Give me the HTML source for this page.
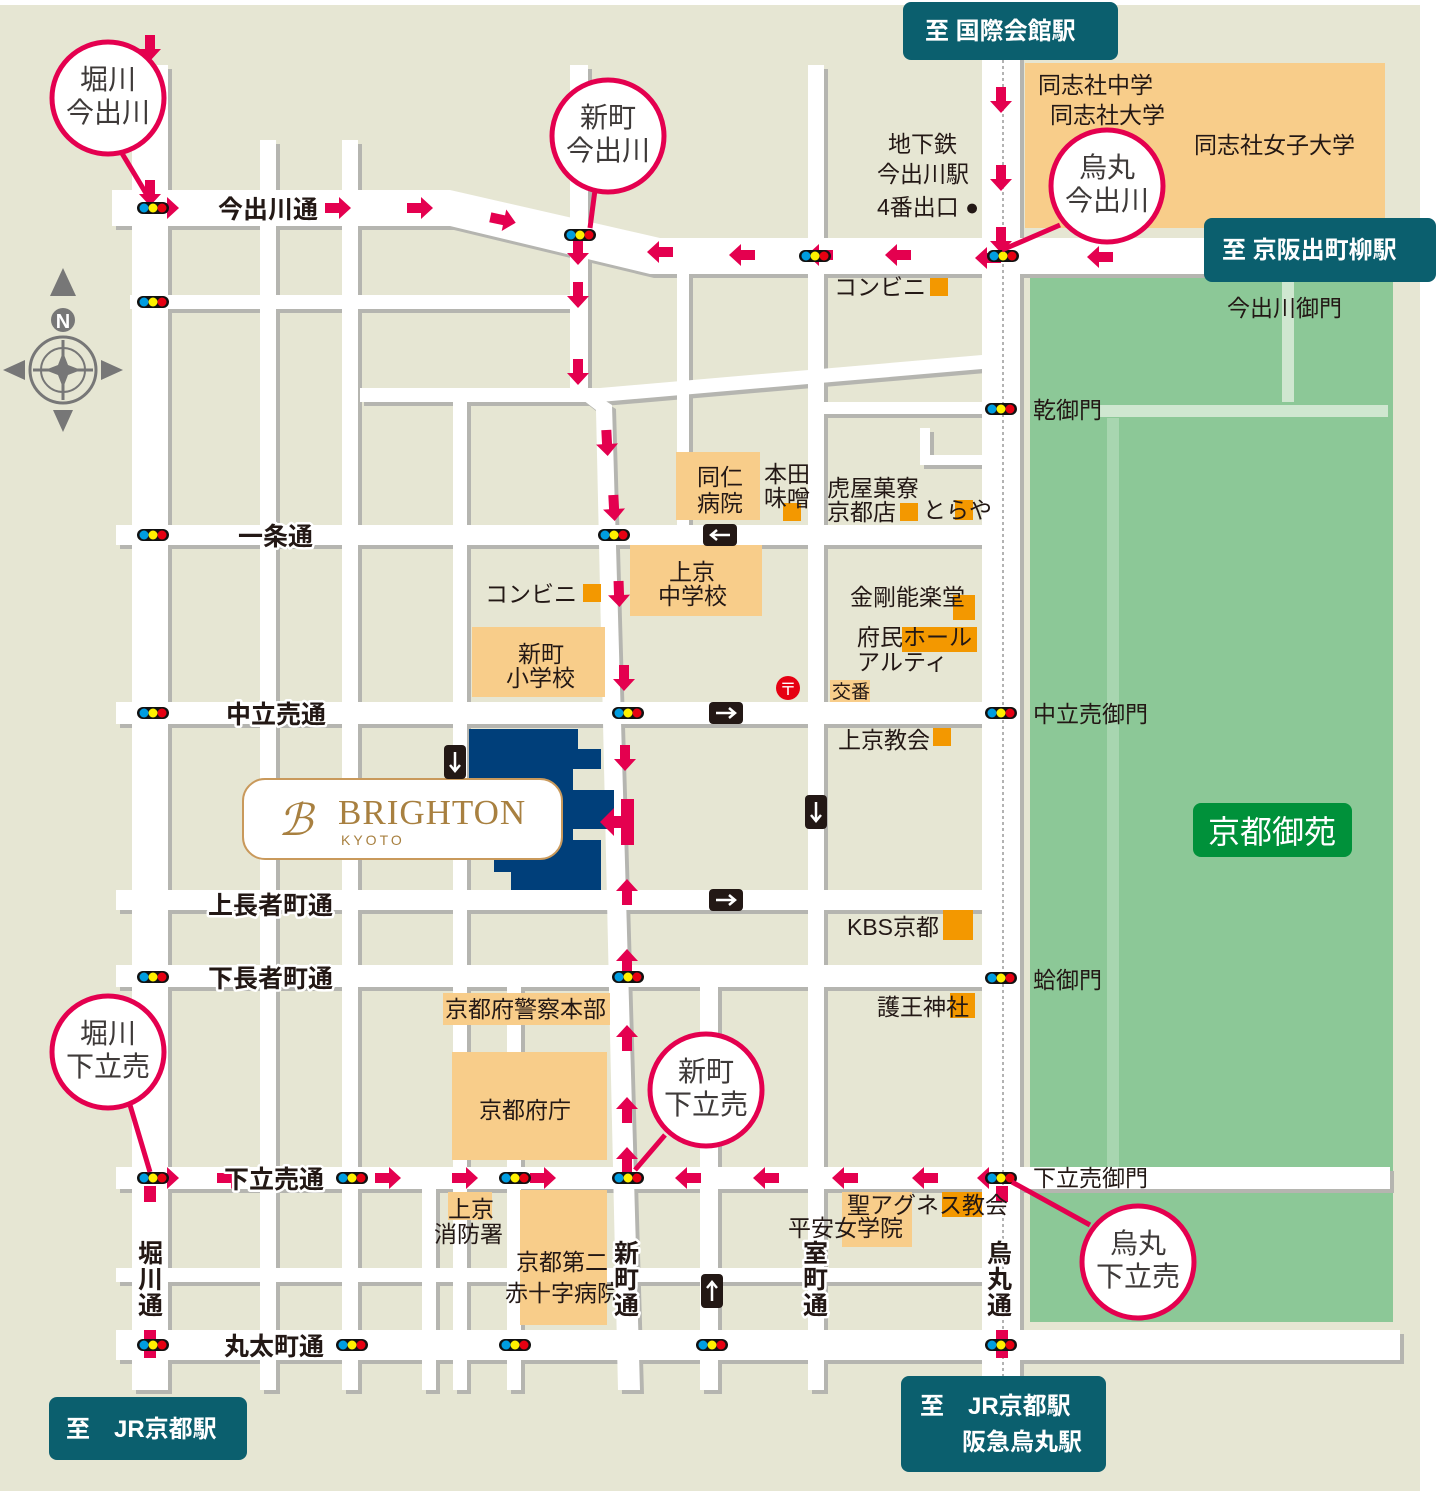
<!DOCTYPE html>
<html><head><meta charset="utf-8"><style>
html,body{margin:0;padding:0;background:#fff}
svg{display:block;font-family:"Liberation Sans","Noto Sans CJK JP",sans-serif}
.t{font-size:23px;fill:#231815}
.rn{font-size:25px;font-weight:bold;fill:#231815;stroke:#fff;stroke-width:5;paint-order:stroke;stroke-linejoin:round}
.cl{font-size:28px;fill:#3e3a39;text-anchor:middle}
.tb{font-size:24px;fill:#fff;font-weight:bold}
</style></head><body>
<svg width="1437" height="1491" viewBox="0 0 1437 1491" xmlns="http://www.w3.org/2000/svg">
<defs>
<g id="roads">
 <rect x="132" y="65" width="36" height="1325"/>
 <rect x="260" y="140" width="16" height="1250"/>
 <rect x="342" y="140" width="16" height="1250"/>
 <rect x="570" y="65" width="18" height="330"/>
 <polygon points="570,390 588,390 612,405 640,1390 618,1390 596,410"/>
 <rect x="453" y="395" width="14" height="995"/>
 <rect x="422" y="1180" width="14" height="210"/>
 <rect x="507" y="980" width="14" height="410"/>
 <rect x="677" y="265" width="12" height="270"/>
 <rect x="700" y="980" width="18" height="410"/>
 <rect x="808" y="65" width="16" height="1325"/>
 <rect x="982" y="5" width="38" height="1385"/>
 <polygon points="112,190 450,190 660,238 1420,238 1420,274 650,274 450,226 112,226"/>
 <rect x="130" y="295" width="450" height="14"/>
 <rect x="360" y="388" width="240" height="14"/>
 <polygon points="600,388 982,355 982,369 600,402"/>
 <rect x="820" y="402" width="162" height="12"/>
 <rect x="920" y="428" width="10" height="34"/>
 <rect x="920" y="455" width="62" height="10"/>
 <rect x="116" y="525" width="866" height="20"/>
 <rect x="116" y="702" width="866" height="22"/>
 <rect x="116" y="890" width="866" height="20"/>
 <rect x="116" y="965" width="866" height="22"/>
 <rect x="116" y="1167" width="1274" height="22"/>
 <rect x="116" y="1268" width="866" height="14"/>
 <rect x="116" y="1330" width="1284" height="30"/>
</g>
<polygon id="ar" points="-13,-5 1,-5 1,-11 13,0 1,11 1,5 -13,5" fill="#e4004f"/>
<g id="sig"><rect x="-16" y="-6" width="32" height="12" rx="6" fill="#111"/><circle cx="-9" cy="0" r="4.5" fill="#009de0"/><circle cx="0" cy="0" r="4.5" fill="#fff100"/><circle cx="9" cy="0" r="4.5" fill="#e60012"/></g>
<g id="ow"><rect x="-17" y="-11" width="34" height="22" rx="4" fill="#231815"/><path d="M-10,0 H9 M3,-5 L9,0 L3,5" stroke="#fff" stroke-width="2.5" fill="none"/></g>
</defs>
<rect x="0" y="5" width="1420" height="1486" fill="#e6e6d3"/>
<rect x="1025" y="63" width="360" height="165" fill="#f8cd8a"/>
<rect x="1030" y="278" width="363" height="1044" fill="#8cc897"/>
<rect x="1107" y="418" width="12" height="752" fill="#a8d6b0"/>
<rect x="1100" y="405" width="288" height="12" fill="#cfe7d0"/>
<rect x="1030" y="1172" width="358" height="12" fill="#cfe7d0"/>
<rect x="1282" y="280" width="12" height="122" fill="#cfe7d0"/>
<use href="#roads" fill="#b5b5b0" transform="translate(4,4)"/>
<use href="#roads" fill="#fff"/>
<line x1="1003" y1="60" x2="1003" y2="1390" stroke="#9a9a9a" stroke-width="1.5" stroke-dasharray="3,3"/>
<g fill="#f8cd8a">
<rect x="676" y="452" width="84" height="68"/>
<rect x="630" y="545" width="132" height="71"/>
<rect x="472" y="627" width="133" height="70"/>
<rect x="443" y="993" width="167" height="32"/>
<rect x="452" y="1052" width="155" height="108"/>
<rect x="520" y="1190" width="87" height="135"/>
<rect x="448" y="1192" width="44" height="28"/>
<rect x="842" y="1192" width="70" height="55"/>
<rect x="830" y="680" width="40" height="22"/>
</g>
<g fill="#f39800">
<rect x="930" y="278" width="18" height="18"/><rect x="583" y="584" width="18" height="18"/>
<rect x="783" y="503" width="18" height="18"/><rect x="900" y="503" width="18" height="18"/>
<rect x="955" y="500" width="18" height="20"/><rect x="953" y="595" width="22" height="25"/>
<rect x="902" y="627" width="75" height="25"/><rect x="933" y="728" width="18" height="18"/>
<rect x="943" y="910" width="30" height="30"/><rect x="950" y="993" width="25" height="25"/>
<rect x="942" y="1192" width="40" height="25"/>
</g>
<polygon points="469,729 578,729 578,749 601,749 601,769 573,769 573,790 614,790 614,829 573,829 573,840 601,840 601,890 511,890 511,872 494,872 494,860 469,860" fill="#003f7a"/>
<rect x="243" y="779" width="319" height="80" rx="22" fill="#fff" stroke="#c9995b" stroke-width="2"/>
<text x="278" y="835" font-family="Liberation Serif,serif" font-size="44" font-style="italic" fill="#a88040">ℬ</text>
<text x="338" y="824" font-family="Liberation Serif,serif" font-size="35" fill="#a88040" letter-spacing="1">BRIGHTON</text>
<text x="341" y="845" font-size="14" fill="#a88040" letter-spacing="3">KYOTO</text>
<g>
<use href="#ar" transform="translate(150,48) rotate(90)"/>
<use href="#ar" transform="translate(150,193) rotate(90)"/>
<use href="#ar" transform="translate(166,208)"/>
<use href="#ar" transform="translate(338,208)"/>
<use href="#ar" transform="translate(420,208)"/>
<use href="#ar" transform="translate(503,220) rotate(12)"/>
<use href="#ar" transform="translate(660,252) rotate(180)"/>
<use href="#ar" transform="translate(742,255) rotate(180)"/>
<use href="#ar" transform="translate(820,255) rotate(180)"/>
<use href="#ar" transform="translate(898,255) rotate(180)"/>
<use href="#ar" transform="translate(988,258) rotate(180)"/>
<use href="#ar" transform="translate(1100,257) rotate(180)"/>
<use href="#ar" transform="translate(578,252) rotate(90)"/>
<use href="#ar" transform="translate(578,295) rotate(90)"/>
<use href="#ar" transform="translate(578,372) rotate(90)"/>
<use href="#ar" transform="translate(607,443) rotate(87)"/>
<use href="#ar" transform="translate(614,508) rotate(87)"/>
<use href="#ar" transform="translate(619,594) rotate(88)"/>
<use href="#ar" transform="translate(624,678) rotate(90)"/>
<use href="#ar" transform="translate(625,758) rotate(90)"/>
<rect x="621" y="799" width="13" height="46" fill="#e4004f"/>
<polygon points="621,816 614,816 614,808 600,822 614,836 614,828 621,828" fill="#e4004f"/>
<use href="#ar" transform="translate(627,892) rotate(-90)"/>
<use href="#ar" transform="translate(627,962) rotate(-90)"/>
<use href="#ar" transform="translate(627,1038) rotate(-90)"/>
<use href="#ar" transform="translate(627,1110) rotate(-90)"/>
<use href="#ar" transform="translate(627,1160) rotate(-90)"/>
<use href="#ar" transform="translate(1001,100) rotate(90)"/>
<use href="#ar" transform="translate(1001,178) rotate(90)"/>
<use href="#ar" transform="translate(1001,240) rotate(90)"/>
<use href="#ar" transform="translate(166,1178)"/>
<use href="#ar" transform="translate(230,1178)"/>
<use href="#ar" transform="translate(388,1178)"/>
<use href="#ar" transform="translate(465,1178)"/>
<use href="#ar" transform="translate(543,1178)"/>
<use href="#ar" transform="translate(688,1178) rotate(180)"/>
<use href="#ar" transform="translate(766,1178) rotate(180)"/>
<use href="#ar" transform="translate(845,1178) rotate(180)"/>
<use href="#ar" transform="translate(925,1178) rotate(180)"/>
<use href="#ar" transform="translate(990,1178) rotate(180)"/>
<rect x="144" y="1186" width="12" height="16" fill="#e4004f"/>
<rect x="144" y="1330" width="12" height="28" fill="#e4004f"/>
<rect x="996" y="1186" width="12" height="16" fill="#e4004f"/>
<rect x="996" y="1330" width="12" height="28" fill="#e4004f"/>
</g>
<g>
<use href="#sig" x="153" y="208"/><use href="#sig" x="153" y="302"/><use href="#sig" x="580" y="235"/>
<use href="#sig" x="815" y="256"/><use href="#sig" x="1003" y="256"/><use href="#sig" x="1001" y="409"/>
<use href="#sig" x="153" y="535"/><use href="#sig" x="614" y="535"/><use href="#sig" x="153" y="713"/>
<use href="#sig" x="628" y="713"/><use href="#sig" x="1001" y="713"/><use href="#sig" x="153" y="977"/>
<use href="#sig" x="628" y="977"/><use href="#sig" x="1001" y="978"/><use href="#sig" x="153" y="1178"/>
<use href="#sig" x="352" y="1178"/><use href="#sig" x="515" y="1178"/><use href="#sig" x="628" y="1178"/>
<use href="#sig" x="1001" y="1178"/><use href="#sig" x="153" y="1345"/><use href="#sig" x="352" y="1345"/>
<use href="#sig" x="515" y="1345"/><use href="#sig" x="712" y="1345"/><use href="#sig" x="1001" y="1345"/>
</g>
<use href="#ow" transform="translate(720,535) rotate(180)"/>
<use href="#ow" transform="translate(726,713)"/>
<use href="#ow" transform="translate(726,900)"/>
<use href="#ow" transform="translate(455,762) rotate(90)"/>
<use href="#ow" transform="translate(816,812) rotate(90)"/>
<use href="#ow" transform="translate(712,1291) rotate(-90)"/>
<circle cx="788" cy="688" r="12" fill="#e60012"/><text x="788" y="695" font-size="17" fill="#fff" text-anchor="middle">〒</text>
<g fill="#777" stroke="#777">
<circle cx="63" cy="370" r="33" fill="none" stroke-width="3"/>
<circle cx="63" cy="370" r="22" fill="none" stroke-width="2"/>
<path d="M63,340 V400 M33,370 H93" stroke-width="3"/>
<polygon points="63,268 50,296 76,296" stroke="none"/>
<polygon points="63,432 53,410 73,410" stroke="none"/>
<polygon points="3,370 25,360 25,380" stroke="none"/>
<polygon points="123,370 101,360 101,380" stroke="none"/>
<polygon points="63,352 68,365 81,370 68,375 63,388 58,375 45,370 58,365" stroke="none"/>
<circle cx="63" cy="320" r="12" stroke="none"/>
</g>
<text x="63" y="328" font-size="20" font-weight="bold" fill="#fff" text-anchor="middle">N</text>
<rect x="1193" y="803" width="159" height="54" rx="8" fill="#00913a"/>
<text x="1272" y="843" font-size="32" fill="#fff" text-anchor="middle">京都御苑</text>
<g class="t">
<text x="1038" y="93">同志社中学</text><text x="1050" y="123">同志社大学</text><text x="1194" y="153">同志社女子大学</text>
<text x="888" y="152">地下鉄</text><text x="877" y="182">今出川駅</text><text x="877" y="215">4番出口 ●</text>
<text x="834" y="295">コンビニ</text><text x="1227" y="316">今出川御門</text>
<text x="1033" y="418">乾御門</text>
<text x="697" y="485">同仁</text><text x="697" y="511">病院</text>
<text x="764" y="482">本田</text><text x="764" y="506">味噌</text>
<text x="827" y="496">虎屋菓寮</text><text x="827" y="520">京都店</text><text x="923" y="518">とらや</text>
<text x="669" y="580">上京</text><text x="658" y="604">中学校</text>
<text x="485" y="602">コンビニ</text>
<text x="850" y="605">金剛能楽堂</text><text x="857" y="645">府民ホール</text><text x="857" y="670">アルティ</text>
<text x="832" y="698" font-size="19">交番</text>
<text x="518" y="662">新町</text><text x="506" y="686">小学校</text>
<text x="1033" y="722">中立売御門</text>
<text x="838" y="748">上京教会</text>
<text x="847" y="935">KBS京都</text>
<text x="1033" y="988">蛤御門</text>
<text x="445" y="1017">京都府警察本部</text>
<text x="877" y="1015">護王神社</text>
<text x="479" y="1118">京都府庁</text>
<text x="1033" y="1186">下立売御門</text>
<text x="847" y="1213">聖アグネス教会</text><text x="788" y="1236">平安女学院</text>
<text x="448" y="1217">上京</text><text x="434" y="1242">消防署</text>
<text x="516" y="1270">京都第二</text><text x="505" y="1301">赤十字病院</text>
</g>
<g class="rn">
<text x="218" y="218">今出川通</text><text x="238" y="545">一条通</text><text x="226" y="723">中立売通</text>
<text x="208" y="914">上長者町通</text><text x="208" y="987">下長者町通</text><text x="224" y="1188">下立売通</text>
<text x="224" y="1355">丸太町通</text>
<text x="138" y="1262">堀</text><text x="138" y="1288">川</text><text x="138" y="1314">通</text>
<text x="614" y="1262">新</text><text x="614" y="1288">町</text><text x="614" y="1314">通</text>
<text x="803" y="1262">室</text><text x="803" y="1288">町</text><text x="803" y="1314">通</text>
<text x="987" y="1262">烏</text><text x="987" y="1288">丸</text><text x="987" y="1314">通</text>
</g>
<g stroke="#e4004f" stroke-width="5" fill="#fff">
<path d="M120,150 L150,200" /><circle cx="108" cy="98" r="56"/>
<path d="M595,190 L590,228"/><circle cx="608" cy="136" r="56"/>
<path d="M1060,225 L1002,250"/><circle cx="1107" cy="186" r="56"/>
<path d="M130,1105 L150,1172"/><circle cx="108" cy="1052" r="56"/>
<path d="M665,1135 L635,1170"/><circle cx="706" cy="1090" r="56"/>
<path d="M1090,1225 L1012,1182"/><circle cx="1138" cy="1262" r="56"/>
</g>
<g class="cl">
<text x="108" y="89">堀川</text><text x="108" y="122">今出川</text>
<text x="608" y="127">新町</text><text x="608" y="160">今出川</text>
<text x="1107" y="177">烏丸</text><text x="1107" y="210">今出川</text>
<text x="108" y="1043">堀川</text><text x="108" y="1076">下立売</text>
<text x="706" y="1081">新町</text><text x="706" y="1114">下立売</text>
<text x="1138" y="1253">烏丸</text><text x="1138" y="1286">下立売</text>
</g>
<g fill="#0b5f6e">
<rect x="903" y="2" width="215" height="58" rx="8"/>
<rect x="1204" y="218" width="232" height="64" rx="8"/>
<rect x="49" y="1397" width="198" height="63" rx="8"/>
<rect x="901" y="1376" width="205" height="96" rx="8"/>
</g>
<g class="tb">
<text x="925" y="39">至 国際会館駅</text>
<text x="1222" y="258">至 京阪出町柳駅</text>
<text x="66" y="1437">至　JR京都駅</text>
<text x="920" y="1414">至　JR京都駅</text><text x="962" y="1450">阪急烏丸駅</text>
</g>
</svg>
</body></html>
